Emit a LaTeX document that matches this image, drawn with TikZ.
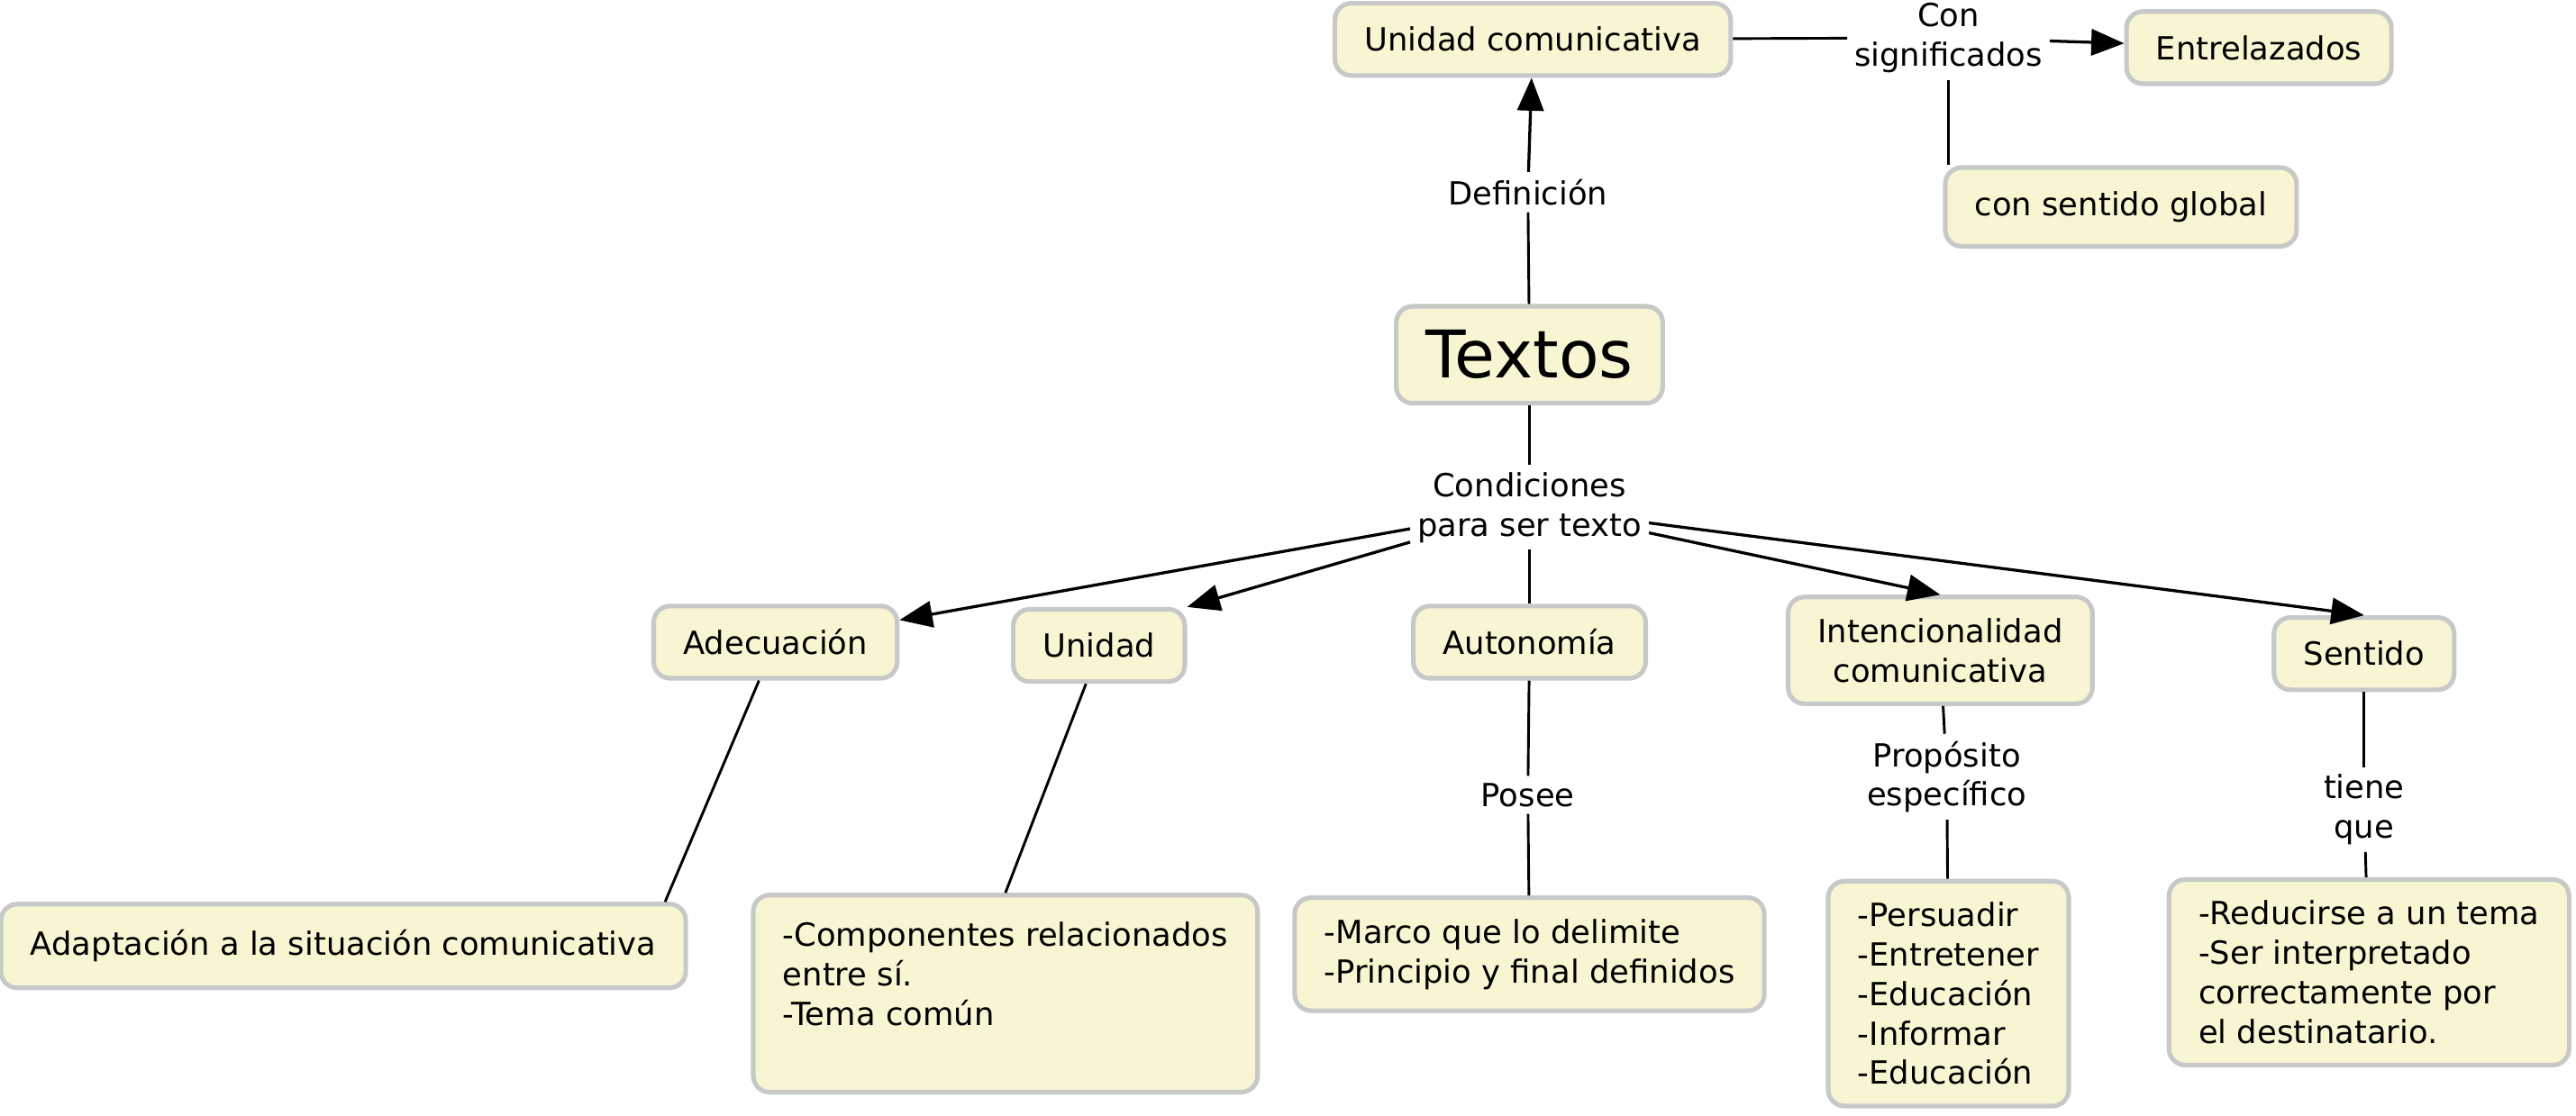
\documentclass[tikz,border=0pt]{standalone}
\usepackage{fontspec}
\setmainfont{DejaVu Sans}
\usetikzlibrary{arrows.meta}
\definecolor{conceptfill}{HTML}{F8F6D2}
\definecolor{conceptline}{HTML}{C8C8C8}
\tikzset{
  concept/.style={draw=conceptline, line width=1.4pt, fill=conceptfill, rounded corners=5pt,
    inner xsep=9pt, inner ysep=6.5pt, minimum height=22pt, align=center,
    font=\fontsize{9.7}{12}\selectfont},
  linkword/.style={inner sep=2pt, align=center, font=\fontsize{9.7}{12}\selectfont},
  link/.style={line width=0.8pt},
  arrowlink/.style={line width=0.9pt, -{Triangle[length=10pt,width=8pt]}}
}
\begin{document}
\begin{tikzpicture}[x=0.5pt, y=-0.5pt]
        \useasboundingbox (0,0) rectangle (1568,679);

        \node (textos) at (931,216) [concept, minimum width=80pt, minimum height=29.5pt, font=\fontsize{20}{24}\selectfont] {Textos};
        \node (uc) at (933,24) [concept] {Unidad comunicativa};
        \node (entre) at (1375,29) [concept] {Entrelazados};
        \node (global) at (1291,126) [concept, minimum height=24pt] {con sentido global};

        \node (defin) at (930,117) [linkword] {Definición};
        \node (consig) at (1186,23) [linkword] {Con\\significados};
        \node (cond) at (931,309) [linkword] {Condiciones\\para ser texto};

        \node (adec) at (472,391) [concept] {Adecuación};
        \node (unid) at (669,393) [concept] {Unidad};
        \node (auto) at (931,391) [concept] {Autonomía};
        \node (inten) at (1181,396) [concept] {Intencionalidad\\comunicativa};
        \node (sent) at (1439,398) [concept] {Sentido};

        \node (posee) at (930,484) [linkword] {Posee};
        \node (prop) at (1185,473) [linkword] {Propósito\\específico};
        \node (tiene) at (1439,493) [linkword] {tiene\\que};

        \node (adap) at (209,576) [concept, minimum height=25.5pt] {Adaptación a la situación comunicativa};
        \node (comp) at (612,605) [concept, minimum height=60pt, align=left] {-Componentes relacionados\\entre sí.\\-Tema común\\ \mbox{}};
        \node (marco) at (931,581) [concept, align=left] {-Marco que lo delimite\\-Principio y final definidos};
        \node (pers) at (1186,605) [concept, align=left] {-Persuadir\\-Entretener\\-Educación\\-Informar\\-Educación};
        \node (reduc) at (1442,592) [concept, align=left] {-Reducirse a un tema\\-Ser interpretado\\correctamente por\\el destinatario.};

        \draw [link] (textos) -- (defin);
        \draw [arrowlink] (defin) -- (uc);
        \draw [link] (uc) -- (consig);
        \draw [arrowlink] (consig) -- (entre);
        \draw [link] (consig.south) -- (consig.south |- global.north);

        \draw [link] (textos) -- (cond);
        \draw [arrowlink] (cond) -- (adec);
        \draw [arrowlink] (cond) -- (unid.north east);
        \draw [link] (cond) -- (auto);
        \draw [arrowlink] (cond) -- (inten.north);
        \draw [arrowlink] (cond) -- (sent.north);

        \draw [link] ([xshift=-5pt]adec.south) -- ([xshift=-7pt]adap.north east);
        \draw [link] ([xshift=-4pt]unid.south) -- (comp.north);
        \draw [link] (auto) -- (posee);
        \draw [link] (posee) -- (marco);
        \draw [link] (inten) -- (prop);
        \draw [link] (prop) -- (pers);
        \draw [link] (sent) -- (tiene);
        \draw [link] (tiene) -- (reduc);

    \end{tikzpicture}
\end{document}
